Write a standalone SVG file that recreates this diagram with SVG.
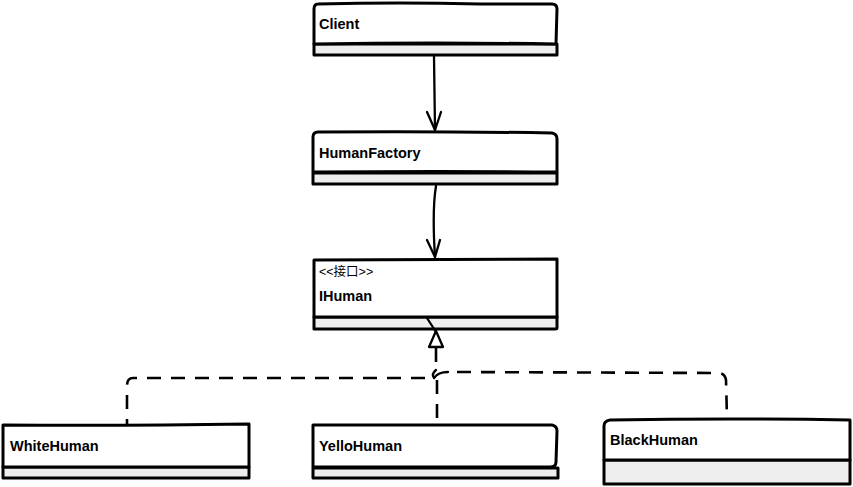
<svg xmlns="http://www.w3.org/2000/svg" width="853" height="487" viewBox="0 0 853 487">
<style>
.box{fill:#fff;stroke:#000;stroke-width:3;stroke-linejoin:round}
.comp{fill:#eeeeee;stroke:#000;stroke-width:3;stroke-linejoin:round}
.t{font-family:"Liberation Sans",Arial,sans-serif;font-weight:bold;font-size:14.5px;fill:#000}
.s{font-family:"Liberation Sans","Noto Sans CJK SC",sans-serif;font-size:12.5px;fill:#000}
.ln{fill:none;stroke:#000;stroke-width:2.3;stroke-linecap:round;stroke-linejoin:round}
.dash{fill:none;stroke:#000;stroke-width:2.6;stroke-dasharray:14 10;stroke-linejoin:round}
</style>
<rect width="853" height="487" fill="#fff"/>
<g id="client">
<path class="comp" d="M314,44 L557,44 L557,55 L314,55 Z"/>
<path class="box" d="M318,4 Q400,2 480,4 L552,4 Q557,4 557,9 L556,44 Q435,42 314,44 L314,9 Q314,4 318,4 Z"/>
<text class="t" x="319" y="29">Client</text>
</g>
<g id="humanfactory">
<path class="comp" d="M313,173 L557,173 L557,184 L313,184 Z"/>
<path class="box" d="M318,132 Q435,131 552,133 Q557,134 557,139 L557,172 Q435,171 313,172 L313,137 Q313,132 318,132 Z"/>
<text class="t" x="319" y="158">HumanFactory</text>
</g>
<g id="ihuman">
<path class="comp" d="M314,317 L557,317 L557,328 Q557,329 555,329 L314,329 Z"/>
<path class="box" d="M314,260 L557,259 L557,317 L314,317 Z"/>
<text class="s" x="319" y="276">&lt;&lt;接口&gt;&gt;</text>
<text class="t" x="319" y="301">IHuman</text>
</g>
<g id="whitehuman">
<path class="comp" d="M3,467 L249,467 L249,478 L3,478 Z"/>
<path class="box" d="M3,425 Q120,426 249,424 L249,467 L3,467 Z"/>
<text class="t" x="10" y="451">WhiteHuman</text>
</g>
<g id="yellohuman">
<path class="comp" d="M313,468 L558,468 L558,478 L313,478 Z"/>
<path class="box" d="M313,425 L552,425 Q557,426 557,431 L556,462 Q556,467 550,467 L313,467 Z"/>
<text class="t" x="319" y="451">YelloHuman</text>
</g>
<g id="blackhuman">
<path class="comp" d="M604,460 L850,460 L850,484 L604,484 Z"/>
<path class="box" d="M610,420 Q730,418 850,420 L850,460 L604,460 L604,426 Q604,421 610,420 Z"/>
<text class="t" x="610" y="445">BlackHuman</text>
</g>
<g id="connectors">
<path class="ln" d="M434,56 L435,130"/>
<path class="ln" d="M427,112 L435,130 L441,112"/>
<path class="ln" d="M436,186 Q432,210 435,257"/>
<path class="ln" d="M427,240 L435,257 L440,240"/>
<path class="ln" d="M427,318 L436,332"/>
<path class="ln" d="M436,331 L443,347 L429,347 Z" stroke-width="2.8" fill="#fff"/>
<path class="dash" d="M436,348 L436,370"/>
<path class="ln" d="M436,370 Q431,374 434,378 Q438,372 448,372"/>
<path class="dash" d="M457,372 L718,373 Q725,373 726,380 L727,418"/>
<path class="dash" d="M425,378 L133,378 Q127,378 127,386 L127,424"/>
<path class="dash" d="M437,380 L437,424"/>
</g>
</svg>
